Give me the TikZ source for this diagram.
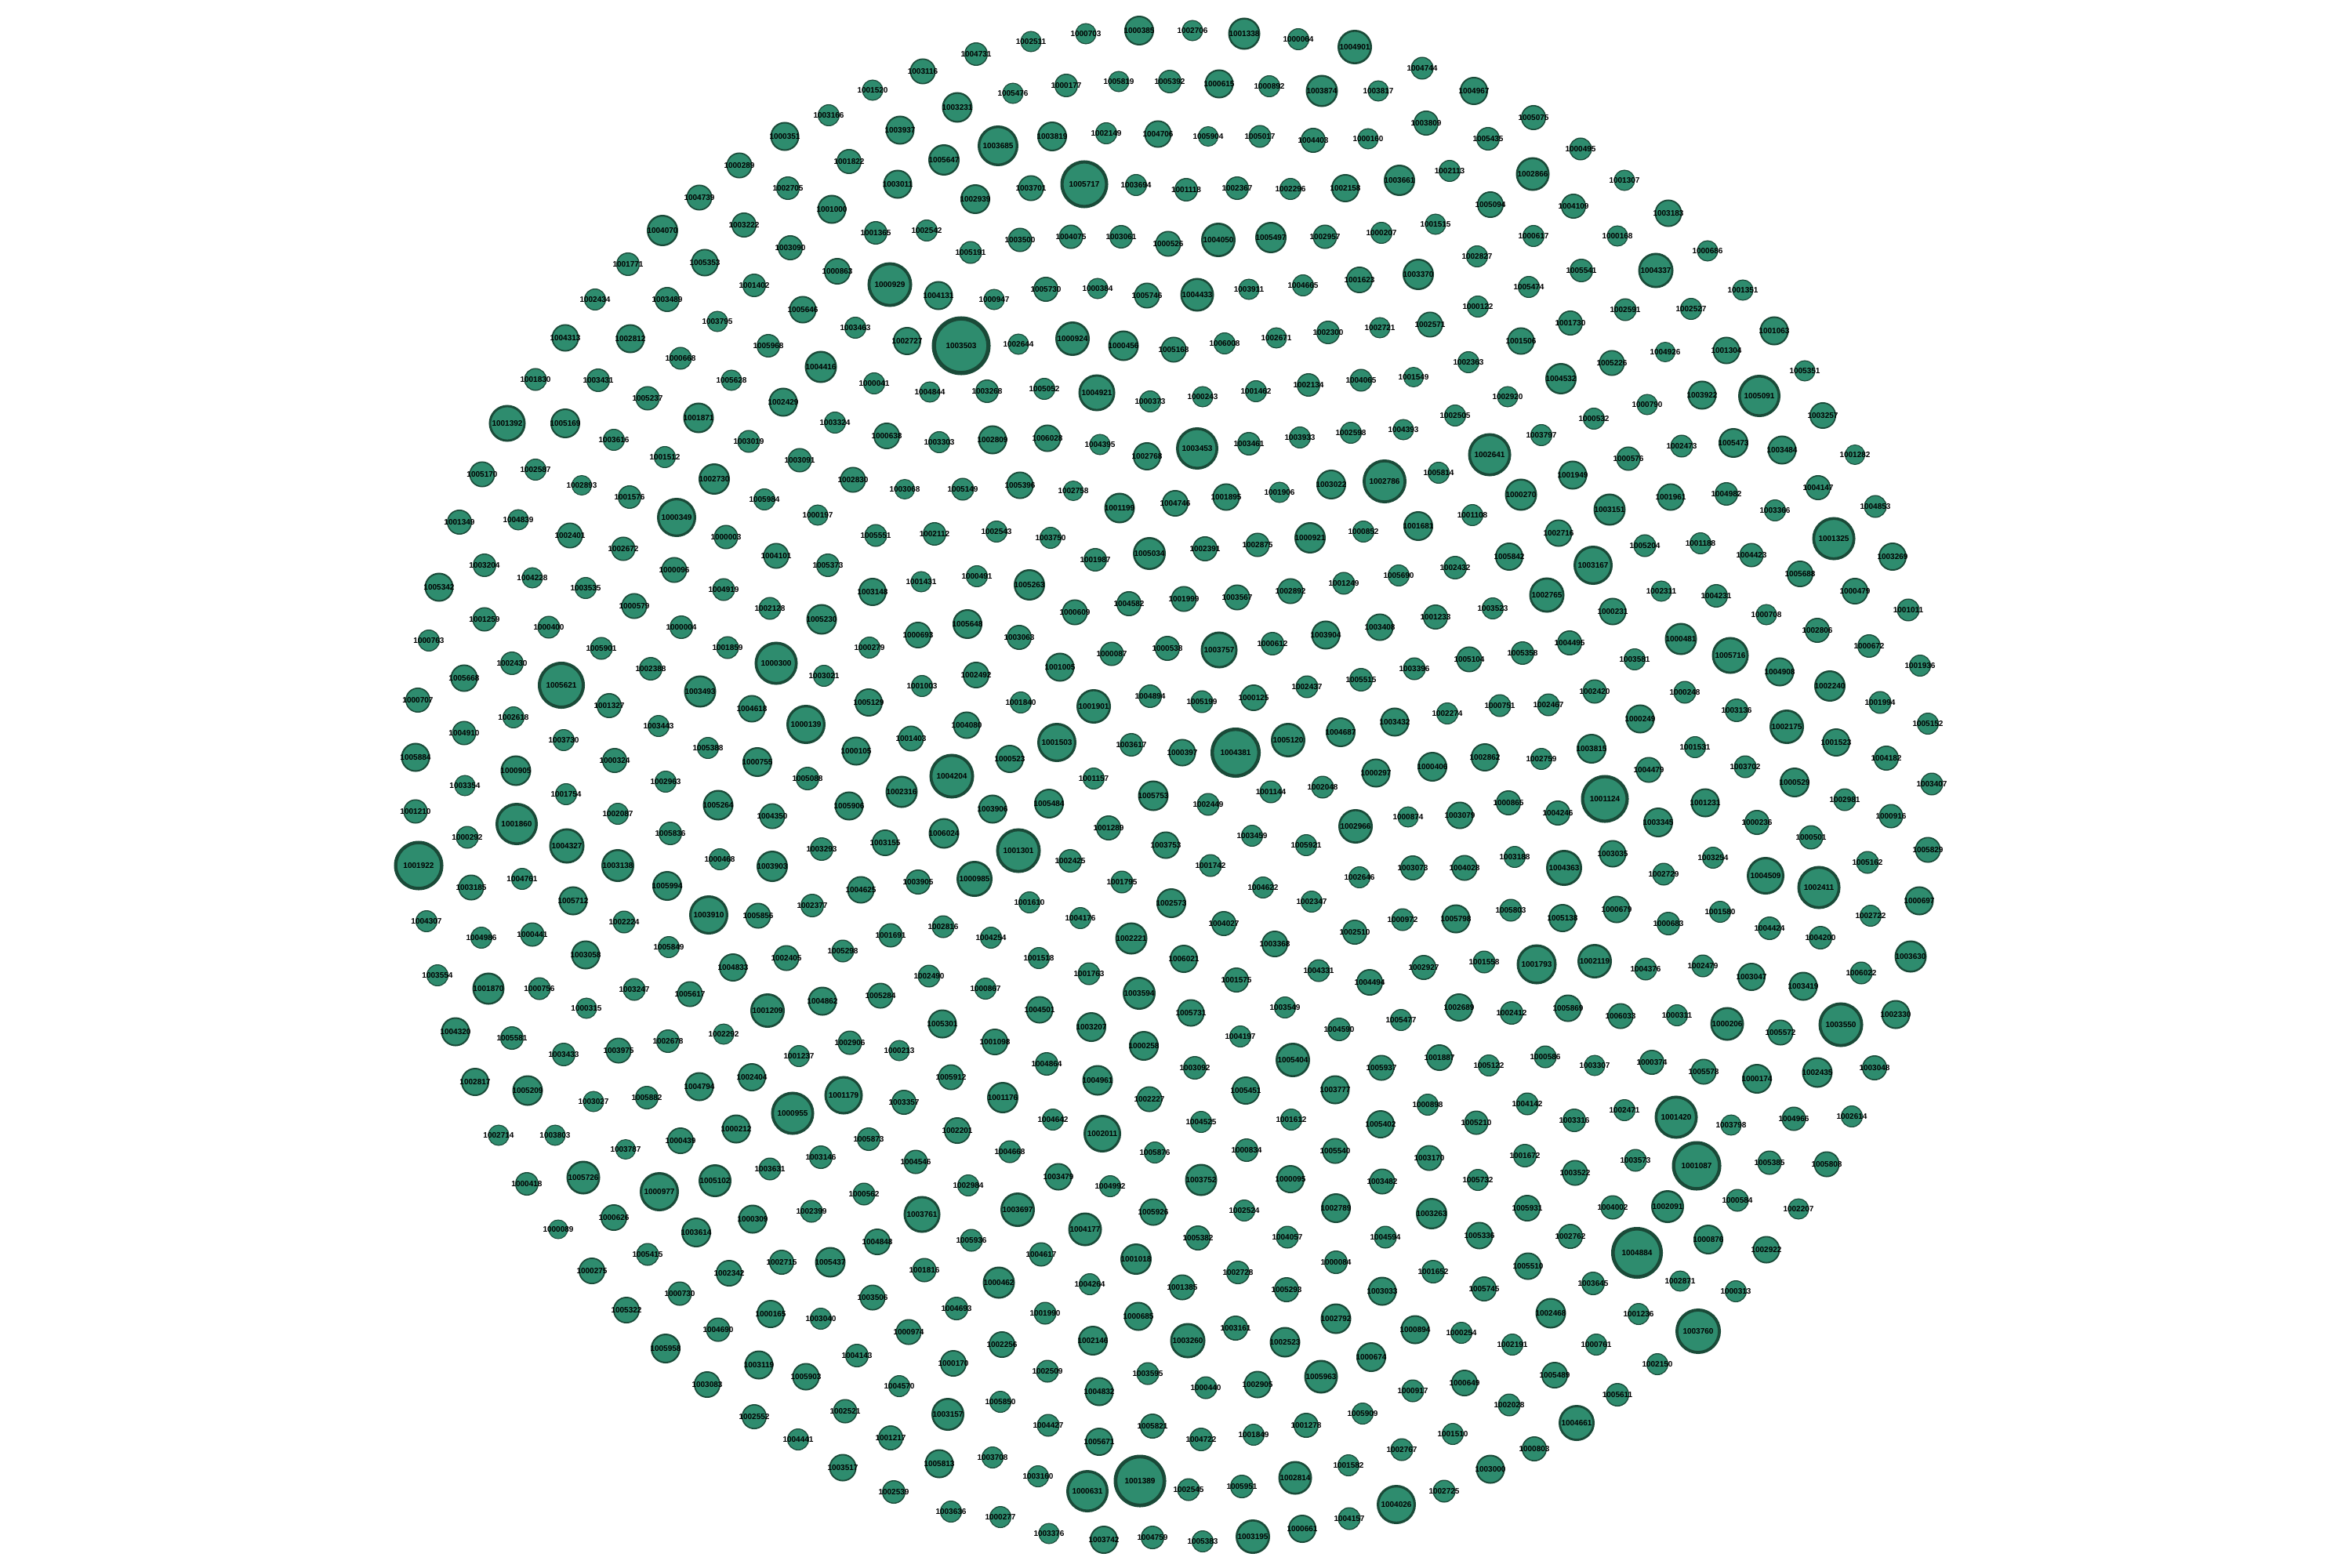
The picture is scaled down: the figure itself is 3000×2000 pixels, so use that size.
\documentclass[tikz,border=0pt]{standalone}
\usepackage{fontspec}
\setmainfont{Liberation Sans}
\definecolor{nodefill}{RGB}{46,140,110}
\definecolor{nodeborder}{RGB}{26,74,56}
\tikzset{nd/.style={circle,draw=nodeborder,fill=nodefill,inner sep=0pt,text=black,font=\fontsize{2.85}{3}\selectfont\bfseries}}
\begin{document}
\begin{tikzpicture}[x=0.01cm,y=-0.01cm]
\useasboundingbox (0,0) rectangle (3000,2000);
\foreach \l/\x/\y/\d in {
1000289/943/211/33,1002705/1005/240/30,1004739/892/252/33,1004070/845/294/40,1003222/949/287/32,1003090/1008/316/32,1001771/801/337/30,1005353/899/335/35,1001402/962/364/30,1002434/759/382/28,1003489/851/382/32,1003795/915/410/27,1005968/980/441/30,1004313/721/431/35,1002812/804/432/37,1000668/868/457/29,1001830/683/484/29,1003431/763/485/30,1005628/933/485/27,1002429/999/513/37,1005237/826/508/31,1001392/647/540/47,1005169/721/540/38,1001871/891/533/39,1003616/783/561/28,1003019/955/563/29,1001512/848/583/28,1005170/615/605/33,1002587/683/599/28,1002893/742/619/26,1001576/803/634/30,1002730/911/611/40,1005984/975/637/28,1000349/863/660/50,1001349/586/666/32,1004839/661/663/27,
1000703/1385/43/27,1000385/1453/39/38,1002511/1315/53/27,1004731/1245/69/30,1003116/1177/91/33,1001520/1113/115/27,1005476/1292/119/27,1000177/1360/109/30,1005819/1427/104/27,1005392/1492/104/30,1003166/1057/147/28,1003231/1221/137/39,1003937/1148/166/37,1000351/1001/174/37,1003685/1273/186/52,1003819/1342/174/38,1002149/1411/170/28,1004706/1477/171/35,1001822/1083/206/32,1005647/1204/204/40,1003011/1145/235/37,1003701/1315/240/33,1005717/1383/235/61,1003694/1449/236/28,1002939/1244/254/38,1001000/1061/267/37,1002542/1182/294/28,1001365/1117/297/30,1003500/1301/306/31,1004075/1366/302/31,1003061/1430/302/30,1000526/1490/311/33,1005191/1238/322/29,1000863/1068/346/34,1000929/1135/363/57,1004131/1197/377/37,1000947/1268/382/27,1005730/1334/369/32,1000384/1400/368/27,1005746/1463/377/33,1005646/1024/395/35,1003463/1091/418/28,1002727/1157/435/36,1003503/1226/441/75,1002644/1299/439/27,1000924/1368/432/44,1000456/1433/441/39,1005168/1497/446/33,1004416/1047/468/41,1000041/1115/489/28,1004844/1186/500/27,1003268/1259/499/30,1005052/1332/496/28,1004921/1399/501/47,1000373/1467/512/28,1003324/1065/539/28,1000638/1131/556/34,1003303/1198/564/28,1002809/1266/561/37,1006028/1336/559/35,1004395/1403/567/27,1002768/1463/582/36,1003091/1020/587/31,1002830/1088/612/33,1003068/1154/624/26,1005149/1228/624/29,1005396/1301/619/35,1002758/1369/626/26,1001199/1428/648/39,1004746/1499/642/34,1000197/1043/657/27,
1002706/1521/39/27,1001338/1587/43/41,1000064/1656/50/28,1004901/1728/60/44,1004744/1814/87/29,1000615/1555/107/37,1000892/1619/110/28,1003874/1686/116/41,1003817/1758/116/27,1004967/1880/116/36,1005075/1956/150/32,1003809/1819/157/32,1005904/1541/174/26,1005017/1607/174/29,1004403/1675/179/32,1000160/1745/177/27,1005435/1898/177/30,1001118/1513/242/30,1002367/1578/240/30,1002296/1646/241/28,1002158/1716/240/36,1003661/1785/230/40,1002113/1849/218/28,1002866/1955/222/43,1005094/1901/261/34,1004050/1554/306/44,1005497/1621/303/40,1002957/1690/302/31,1000207/1762/297/28,1001515/1831/286/27,1000617/1956/301/28,1002827/1884/327/28,1004433/1527/376/43,1003911/1593/369/27,1004665/1662/364/28,1001623/1734/357/34,1003370/1809/350/40,1005474/1950/366/28,1000122/1885/391/28,1006008/1562/438/28,1002671/1628/431/27,1002300/1694/424/30,1002721/1760/418/27,1002571/1824/414/33,1001506/1940/435/35,1002363/1873/462/28,1004532/1991/483/40,1000243/1534/506/27,1001462/1602/499/28,1002134/1669/491/30,1004065/1736/485/29,1001549/1803/481/26,1002920/1923/506/27,1002505/1856/530/28,1003453/1527/572/54,1003461/1593/566/30,1003933/1658/558/28,1002598/1723/552/28,1004393/1790/548/27,1003797/1966/555/28,1002641/1900/580/55,1001895/1564/634/35,1001906/1632/628/27,1003022/1698/618/38,1002786/1766/614/56,1005814/1835/603/28,1000270/1940/631/41,1001108/1878/657/28,
1000495/2016/190/29,1001307/2072/230/27,1004109/2007/263/32,1003183/2128/272/35,1000168/2063/301/27,1000686/2178/320/27,1005541/2017/345/30,1004337/2112/345/45,1001351/2223/370/27,1002591/2073/395/29,1002527/2157/394/28,1001730/2003/412/32,1001063/2263/422/37,1004926/2124/449/26,1001304/2202/447/35,1005226/2056/463/33,1005351/2302/473/27,1003922/2171/504/37,1005091/2244/505/54,1000790/2101/516/27,1003257/2325/530/34,1000532/2033/534/28,1002473/2145/569/29,1005473/2211/565/38,1003484/2273/574/37,1001282/2366/580/26,1000576/2077/585/31,1001949/2006/606/37,1004147/2319/622/32,1001961/2131/634/35,1004982/2202/630/30,1004853/2392/646/29,1003151/2053/650/41,1003366/2264/651/28,
1002401/727/683/33,1002672/795/700/31,1000003/926/685/31,1004101/990/709/33,1003204/618/721/30,1004228/679/737/27,1005342/560/749/37,1003535/747/750/28,1000096/860/727/33,1004919/923/752/29,1000579/809/773/33,1002128/982/776/29,1001259/618/790/31,1000400/700/800/29,1000004/869/800/30,1000763/547/817/28,1005901/767/827/29,1001859/928/826/29,1000300/990/846/55,1002430/653/846/30,1005668/592/865/35,1005621/716/874/60,1002388/830/853/30,1003493/893/882/41,1000707/533/893/32,1001327/777/900/32,1004618/959/904/35,1002618/655/915/28,1003443/840/926/28,1004910/592/935/31,1003730/719/944/28,1005388/903/954/28,1005884/530/966/37,1000905/658/983/39,1000324/784/970/32,1000755/966/972/38,1003354/593/1002/27,1001754/722/1013/28,1002963/849/997/28,1005264/916/1027/39,1004350/985/1041/33,1001210/530/1035/31,1001860/659/1051/54,1002087/788/1038/28,1005836/855/1063/30,1000292/596/1068/29,1004327/723/1079/45,1001922/534/1104/63,1003138/788/1104/42,1000468/918/1096/28,1003903/985/1105/40,1003185/601/1132/33,1004761/666/1121/28,1005712/731/1149/37,1005994/851/1130/38,1003910/904/1167/50,1005856/967/1168/33,1004307/544/1175/28,1002224/796/1176/29,1004986/614/1196/28,1000441/679/1192/31,1003058/747/1218/37,1005849/853/1208/28,1002405/1003/1222/33,1004833/935/1234/36,1003554/558/1244/28,1001870/623/1261/41,1000756/688/1261/29,1003247/809/1262/29,1005617/880/1268/33,1000315/748/1286/27,1001209/979/1289/44,1004320/581/1316/37,1005581/653/1324/30,1002292/923/1319/27,1002678/852/1328/30,
1005551/1117/683/29,1002112/1192/681/30,1002543/1271/678/28,1003750/1340/686/28,1005034/1466/706/42,1001987/1397/714/30,1005373/1056/721/30,1001431/1175/742/27,1000491/1246/735/28,1005263/1313/746/40,1004582/1440/770/32,1001999/1510/764/33,1003148/1113/755/36,1005230/1048/790/39,1000693/1171/810/34,1005648/1234/796/38,1003063/1300/813/32,1000609/1371/781/33,1000279/1109/826/28,1000087/1418/834/31,1000538/1489/827/32,1003021/1051/862/28,1001003/1176/875/28,1002492/1245/861/34,1001005/1352/851/37,1005129/1108/896/36,1001840/1302/896/28,1001901/1395/901/44,1004894/1467/888/30,1000139/1028/924/50,1004080/1233/925/35,1001503/1348/947/50,1001403/1162/942/33,1003617/1443/950/30,1000397/1508/960/35,1000105/1092/958/37,1000523/1288/968/36,1004204/1214/990/57,1005088/1030/993/30,1001157/1395/993/28,1005753/1471/1015/39,1002316/1150/1010/41,1005906/1083/1028/37,1003906/1266/1032/37,1005484/1338/1025/38,1001289/1414/1056/32,1006024/1204/1063/39,1003155/1129/1075/34,1003293/1048/1083/30,1001301/1299/1085/57,1003753/1487/1078/35,1002425/1365/1098/30,1003905/1171/1125/32,1000985/1243/1121/46,1004625/1098/1135/35,1001795/1431/1125/29,1002377/1036/1155/30,1001610/1313/1151/28,1002573/1494/1152/38,1004176/1378/1171/28,1002816/1203/1182/29,1001691/1136/1193/31,1004254/1264/1196/28,1002221/1443/1197/41,1005298/1075/1213/29,1001518/1325/1222/28,1006021/1510/1223/36,1002490/1185/1245/29,1001763/1389/1242/29,1003594/1453/1267/42,1000867/1257/1261/28,1005284/1123/1270/33,1004862/1049/1277/37,1004501/1326/1288/35,1005301/1202/1306/37,1003207/1392/1310/38,1002906/1084/1330/31,1001098/1269/1329/34,1000258/1459/1334/38,
1000921/1671/686/40,1000852/1739/678/28,1001681/1809/671/38,1002716/1988/680/35,1002391/1537/700/32,1002875/1604/695/31,1005842/1925/710/36,1002432/1856/724/30,1005690/1784/734/28,1001249/1714/744/29,1003567/1578/762/33,1002892/1646/754/33,1002765/1973/759/45,1003523/1904/776/28,1001233/1831/787/32,1003408/1760/800/35,1003904/1691/810/37,1003757/1555/829/47,1000612/1623/821/30,1004495/2002/820/32,1005358/1942/833/30,1005104/1874/841/33,1003396/1804/853/29,1005515/1736/867/30,1002437/1667/876/29,1005199/1533/895/29,1000125/1599/890/34,1000751/1913/900/29,1002467/1975/899/29,1002274/1846/910/28,1003432/1779/921/37,1004687/1710/934/38,1005120/1643/944/44,1004381/1576/960/64,1002862/1894/966/36,1002759/1966/968/28,1000406/1827/978/38,1000297/1755/986/37,1001144/1621/1010/29,1002048/1687/1004/29,1002449/1541/1026/29,1000865/1924/1024/32,1004246/1987/1037/32,1000874/1796/1042/27,1003079/1862/1040/35,1002966/1729/1054/44,1003459/1597/1066/28,1005921/1666/1078/28,1001742/1544/1104/29,1003073/1802/1107/32,1004028/1868/1107/33,1003188/1932/1093/28,1004363/1995/1107/46,1002646/1734/1119/28,1004622/1611/1132/28,1002347/1673/1150/28,1005803/1927/1161/29,1005138/1993/1171/36,1004027/1561/1178/32,1000972/1789/1173/29,1005798/1857/1172/37,1002510/1728/1189/32,1003368/1626/1204/34,1001575/1577/1250/32,1004331/1682/1238/29,1004494/1747/1253/34,1002927/1816/1234/32,1001558/1893/1227/29,1001793/1960/1230/51,1005731/1519/1292/35,1003549/1639/1285/28,1005477/1787/1301/28,1002689/1861/1285/36,1002412/1928/1292/30,1005869/2000/1286/35,1004590/1708/1313/30,1004197/1582/1322/28,
1005204/2098/696/29,1001188/2169/693/28,1001325/2339/687/55,1004423/2234/708/31,1003167/2032/721/50,1003269/2414/710/36,1005688/2296/732/34,1002311/2119/754/27,1004231/2189/760/30,1000479/2366/754/34,1000231/2057/780/35,1000708/2253/784/27,1001011/2434/778/29,1002806/2318/804/32,1000481/2144/815/41,1005716/2207/836/47,1000672/2384/824/30,1003581/2085/841/28,1004908/2270/857/37,1001936/2449/849/28,1002240/2334/875/40,1002420/2034/882/31,1000248/2149/883/29,1001994/2398/896/29,1003136/2215/906/30,1000249/2092/917/37,1002175/2279/927/44,1005152/2459/923/28,1001523/2342/947/36,1003815/2030/955/38,1001531/2162/953/28,1004182/2406/967/32,1003702/2226/978/29,1004479/2103/982/33,1000529/2289/998/38,1003407/2464/1000/29,1001124/2047/1019/61,1001231/2175/1024/37,1002981/2353/1020/29,1000916/2412/1041/31,1003345/2115/1049/38,1000236/2241/1049/32,1000501/2310/1068/31,1005829/2459/1084/33,1003035/2057/1089/35,1003254/2185/1094/28,1005162/2382/1100/29,1002729/2122/1115/29,1004509/2252/1117/48,1002411/2320/1132/55,1000697/2448/1149/37,1000679/2062/1160/35,1001580/2194/1163/28,1000683/2128/1178/30,1002722/2386/1168/28,1004424/2257/1184/30,1004200/2322/1196/30,1002119/2034/1226/44,1003630/2437/1220/41,1004376/2099/1236/29,1002479/2172/1232/29,1003047/2234/1246/36,1003419/2300/1258/37,1006022/2374/1241/29,1006033/2067/1296/33,1000311/2139/1295/28,1000206/2203/1306/43,1005572/2271/1317/33,1003550/2348/1307/57,1002330/2418/1294/37,
1003433/719/1345/30,1003975/789/1340/33,1002817/606/1380/36,1005209/673/1391/39,1003027/757/1405/27,1005882/825/1400/30,1004794/892/1386/37,1002404/959/1374/36,1000955/1011/1420/55,1002714/636/1448/27,1003803/708/1448/27,1003787/798/1466/26,1000439/868/1455/34,1000212/939/1440/37,1003631/982/1491/29,1000418/672/1510/30,1005726/744/1502/43,1000977/841/1520/50,1005102/912/1506/42,1000309/960/1555/37,1000089/712/1568/25,1000626/783/1553/34,1003614/888/1572/38,1005415/826/1600/29,1002715/997/1610/32,1000275/755/1621/34,1002342/930/1624/34,1000730/867/1650/31,1005322/799/1671/34,1000165/983/1676/36,1004690/916/1696/31,1005958/849/1720/38,1003119/968/1741/37,1003083/902/1766/34,1002552/962/1807/32,
1001237/1019/1347/28,1000213/1147/1340/27,1004864/1335/1357/30,1005912/1213/1374/33,1004961/1400/1378/39,1001179/1076/1397/49,1001176/1279/1400/40,1002227/1466/1402/33,1003357/1153/1406/32,1004642/1343/1428/28,1002011/1406/1446/48,1002201/1221/1442/34,1005873/1108/1453/30,1005876/1473/1470/28,1004668/1288/1469/29,1003146/1047/1476/30,1004546/1168/1482/31,1003479/1350/1501/35,1004992/1416/1513/28,1002984/1235/1512/28,1000562/1102/1523/29,1002399/1035/1545/29,1003761/1176/1549/47,1003697/1298/1543/44,1005926/1471/1546/35,1004177/1384/1568/43,1004848/1119/1584/34,1005936/1239/1582/29,1004617/1328/1600/31,1001018/1449/1606/40,1005437/1059/1610/39,1001816/1179/1620/31,1000462/1274/1636/41,1004264/1390/1638/28,1001385/1508/1642/33,1003506/1113/1655/33,1004693/1220/1669/30,1001990/1333/1675/29,1000685/1452/1679/37,1003040/1047/1682/28,1000974/1159/1699/33,1002146/1394/1710/38,1003260/1515/1710/45,1002256/1278/1715/34,1004143/1093/1729/30,1000170/1216/1739/34,1002509/1336/1749/29,1003595/1464/1752/29,1005903/1028/1756/35,1004570/1147/1768/28,1004832/1402/1775/37,1005850/1276/1788/28,1002521/1078/1800/31,1003157/1209/1804/42,1004427/1337/1818/29,1005821/1470/1819/32,1004441/1018/1836/28,1001217/1136/1834/32,1005671/1402/1839/36,1005813/1198/1867/37,1003708/1266/1859/28,1003517/1075/1872/35,1003160/1324/1883/28,1000631/1387/1902/54,1001389/1454/1889/67,1002539/1140/1903/30,1003636/1213/1928/28,1000277/1276/1935/28,1003376/1338/1956/27,1003742/1408/1964/36,1004759/1470/1961/30,1002545/1516/1900/29,
1003092/1524/1362/30,1005404/1649/1352/44,1005937/1762/1362/33,1001887/1836/1349/34,1005122/1899/1359/28,1000586/1971/1348/29,1005451/1589/1391/36,1003777/1703/1390/37,1000898/1821/1409/28,1004142/1948/1408/29,1004525/1532/1431/28,1001612/1647/1428/28,1005402/1761/1434/36,1005210/1883/1432/31,1003316/2008/1429/30,1000834/1590/1467/30,1005540/1703/1468/33,1003170/1823/1477/33,1001672/1945/1474/30,1003522/2009/1496/33,1003752/1532/1505/41,1000095/1646/1504/36,1003482/1763/1507/33,1005732/1885/1505/28,1002524/1587/1544/28,1002789/1704/1541/38,1003263/1826/1548/40,1005931/1948/1541/34,1005382/1528/1579/32,1004057/1642/1578/29,1004594/1767/1578/29,1005336/1887/1576/35,1002762/2003/1577/32,1000084/1704/1610/30,1002728/1579/1623/30,1001652/1828/1622/30,1005510/1949/1615/35,1005293/1641/1645/32,1003033/1763/1647/37,1005745/1893/1644/32,1002468/1978/1675/39,1003161/1576/1694/32,1002792/1704/1682/39,1000894/1805/1696/37,1000254/1864/1700/28,1002523/1639/1712/39,1002191/1929/1715/28,1000674/1749/1731/38,1005963/1685/1756/43,1000440/1538/1770/29,1002905/1604/1766/35,1000917/1802/1774/29,1000649/1868/1764/34,1005489/1983/1754/34,1002028/1925/1792/29,1004661/2011/1815/46,1005909/1738/1803/28,1001278/1666/1818/32,1001510/1853/1829/28,1004722/1532/1836/30,1001849/1599/1830/28,1000803/1957/1848/32,1002767/1788/1849/29,1003000/1901/1874/37,1001582/1720/1869/28,1002814/1652/1885/43,1005951/1584/1896/30,1002725/1842/1902/29,1004026/1781/1919/50,1004157/1721/1937/29,1000661/1661/1950/36,1003195/1598/1960/44,1005383/1534/1966/28,
1003307/2034/1359/27,1000374/2107/1355/32,1005578/2173/1367/33,1000174/2241/1376/38,1002435/2318/1368/39,1003048/2391/1362/32,1002471/2072/1416/28,1001420/2138/1425/55,1003798/2208/1435/27,1004966/2288/1427/31,1002614/2362/1424/28,1003573/2086/1480/29,1001087/2164/1487/63,1005385/2257/1483/31,1005808/2330/1485/33,1004002/2057/1540/31,1002091/2127/1539/42,1000584/2216/1531/29,1002207/2294/1542/27,1004884/2088/1598/66,1000876/2179/1581/38,1002922/2253/1594/35,1003645/2032/1637/30,1002871/2143/1634/27,1000313/2214/1647/28,1001236/2090/1676/28,1003760/2166/1698/58,1000761/2036/1715/28,1002150/2114/1740/28,1005611/2063/1779/30}
{
  \pgfmathsetmacro\lw{(1.1+(\d-27)*0.09)*0.2845}
  \pgfmathsetmacro\ms{\d*0.2845-\lw}
  \node[nd,line width=\lw pt,minimum size=\ms pt] (n\l) at (\x,\y) {\makebox[0pt]{\l}};
}
\end{tikzpicture}
\end{document}
